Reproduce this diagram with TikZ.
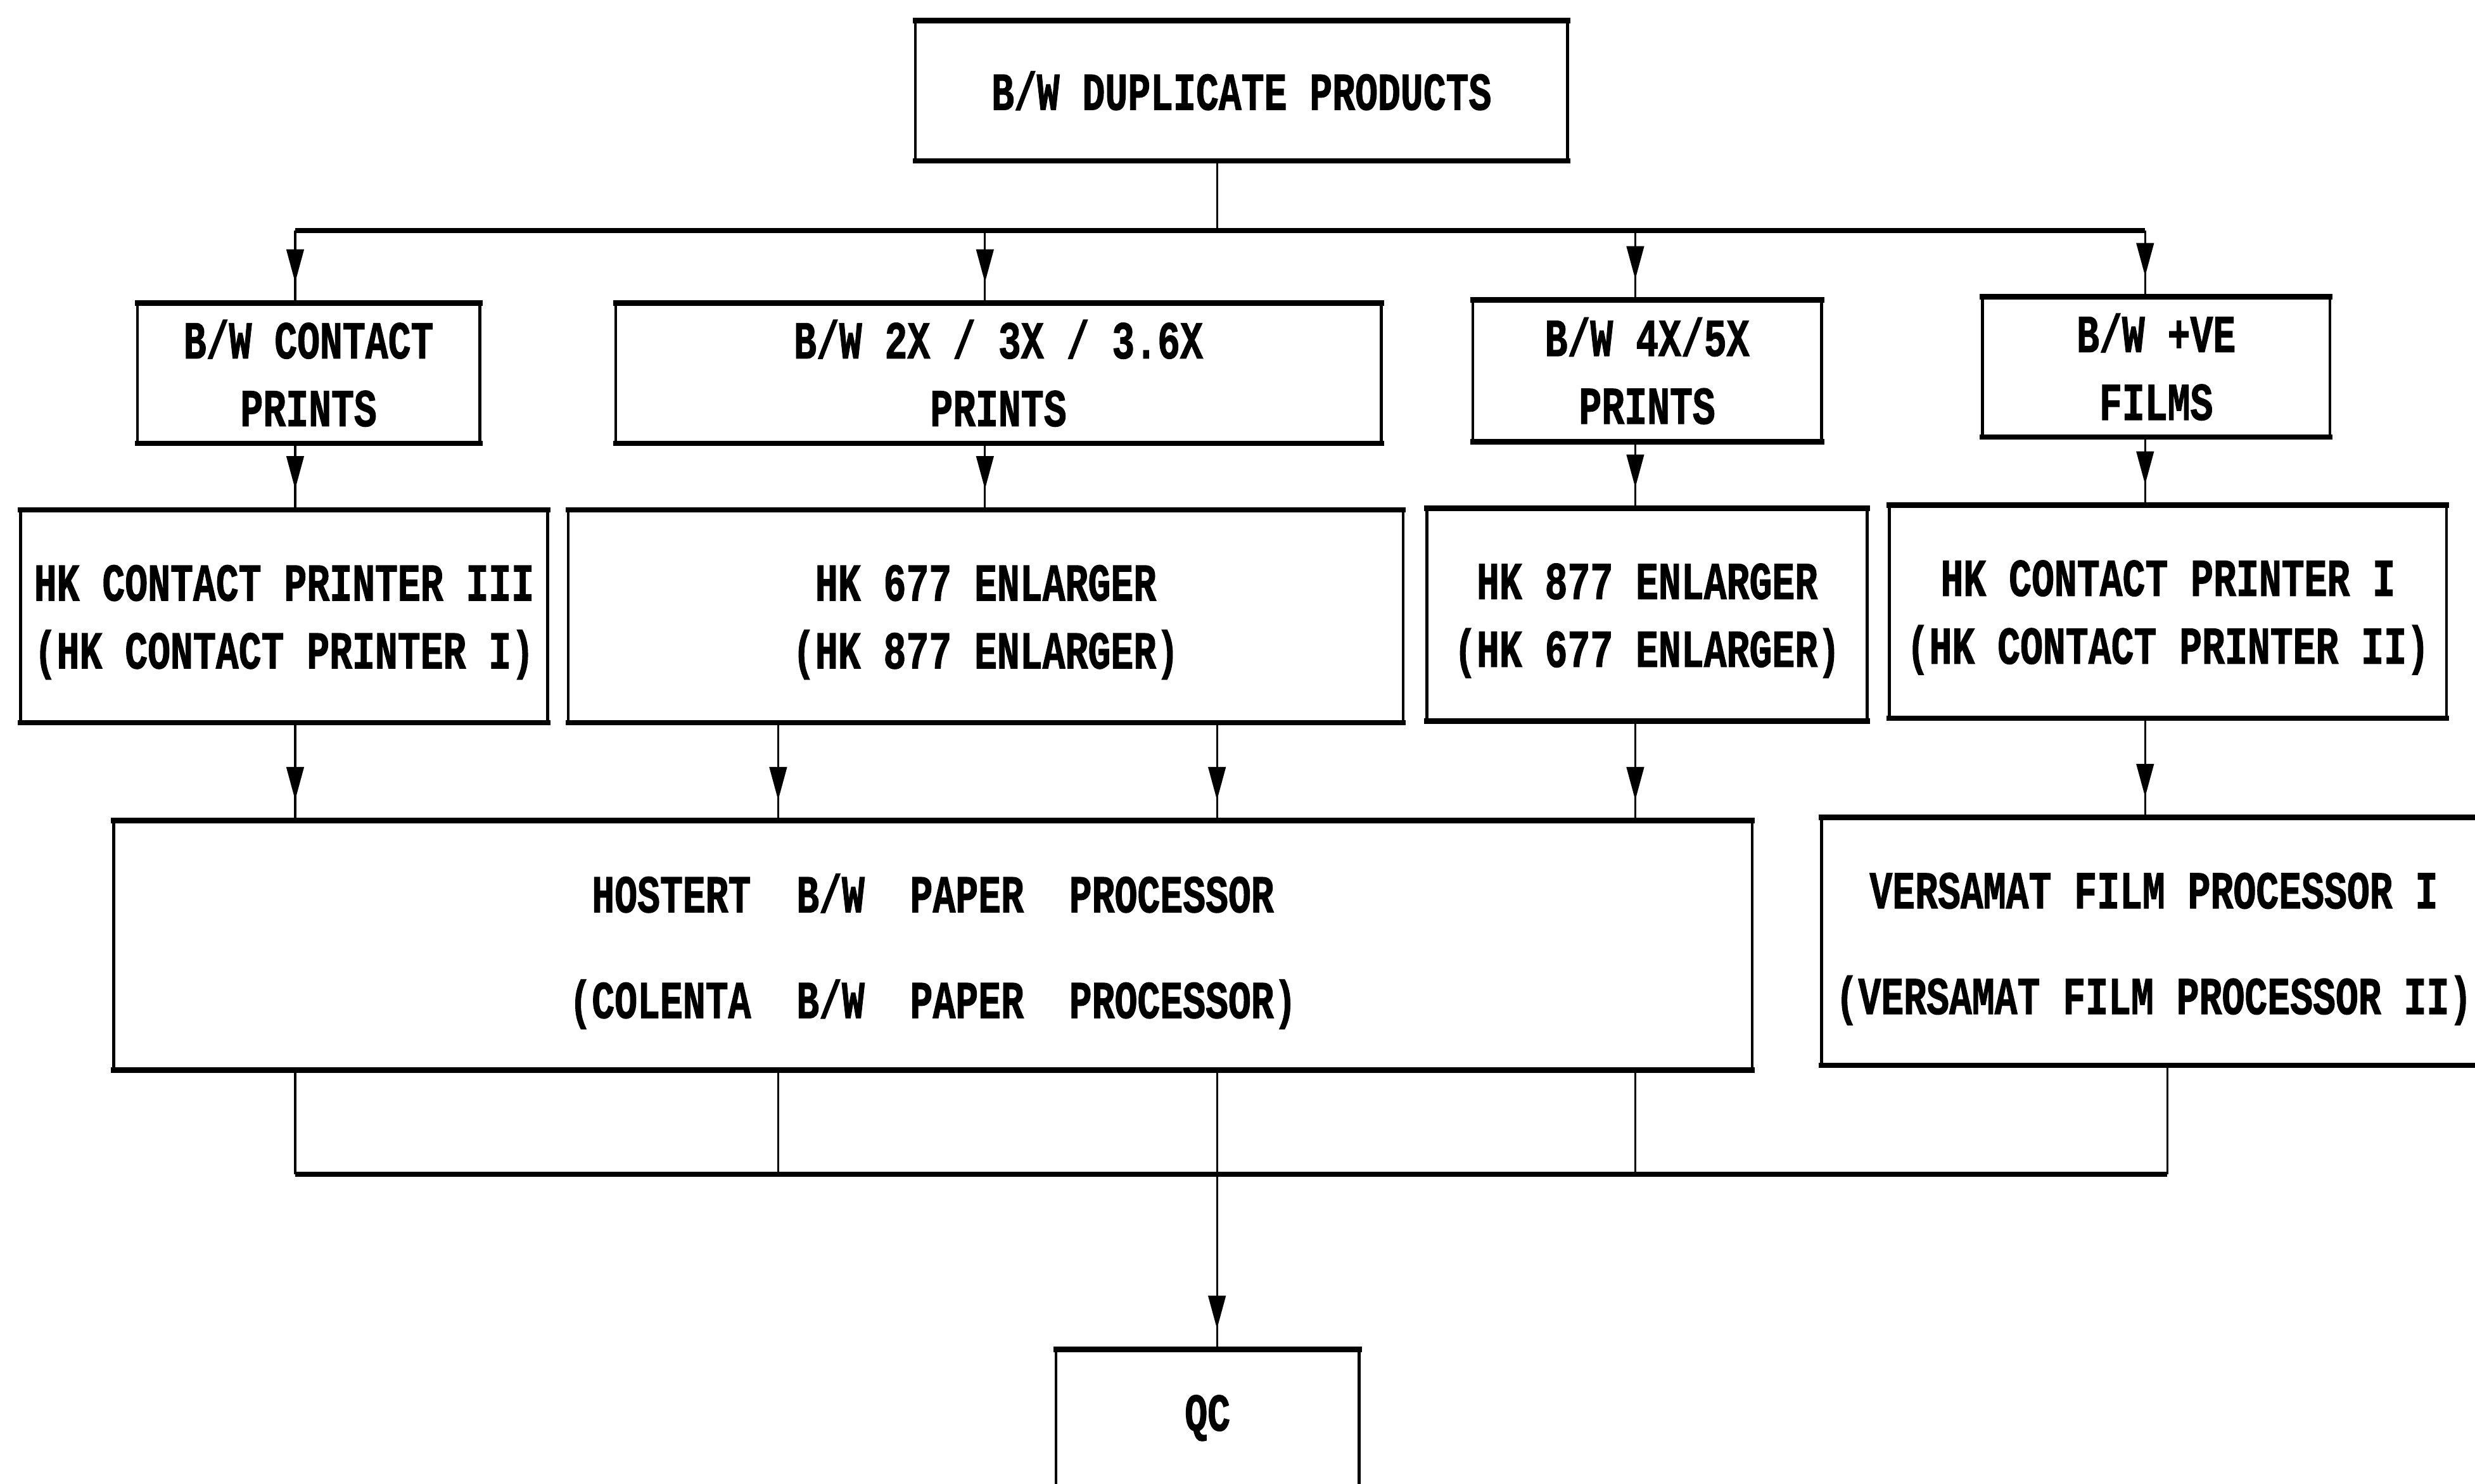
\documentclass[tikz,border=0pt]{standalone}
\usepackage{graphicx}
\usepackage{fontspec}
\setmonofont{Liberation Mono}[BoldFeatures={FakeBold=1.6}]
\usetikzlibrary{arrows.meta,decorations.markings}
\newcommand{\sx}[1]{\scalebox{1}[1.4]{#1}}
\newcommand{\lift}[1]{\rule{0pt}{#1pt}}
\begin{document}
\begin{tikzpicture}[x=1pt,y=-1pt,
  bx/.style={inner sep=0pt, outer sep=0pt, align=center, draw=none,
    font=\ttfamily\bfseries\fontsize{24}{43}\selectfont},
  bxwide/.style={bx, font=\ttfamily\bfseries\fontsize{24}{67}\selectfont},
  hedge/.style={line width=3.4pt, line cap=rect},
  vedge/.style={line width=1.8pt},
  hline/.style={line width=3.2pt},
  vline/.style={line width=1.3pt},
  arr/.style={vline, postaction={decorate},
    decoration={markings, mark=at position -13pt with {\arrow{Triangle[length=21pt,width=11pt]}}}}
]
\useasboundingbox[fill=white] (0,0) rectangle (1568,940);

% boxes
\node[bx, minimum width=413pt, minimum height=89pt] (top) at (786.5,57.5) {\sx{B/W DUPLICATE PRODUCTS}};
\node[bx, minimum width=217pt, minimum height=89pt] (B1) at (195.5,236.5) {\sx{B/W CONTACT}\\\sx{PRINTS}};
\node[bx, minimum width=485pt, minimum height=89pt] (B2) at (632.5,236.5) {\sx{B/W 2X / 3X / 3.6X}\\\sx{PRINTS}};
\node[bx, minimum width=221pt, minimum height=90pt] (B3) at (1043.5,235) {\sx{B/W 4X/5X}\\\sx{PRINTS}};
\node[bx, minimum width=220pt, minimum height=89pt] (B4) at (1366,232.5) {\sx{B/W +VE}\\\sx{FILMS}};
\node[bx, minimum width=334pt, minimum height=135pt] (C1) at (180,390.5) {\lift{30}\sx{HK CONTACT PRINTER III}\\\sx{(HK CONTACT PRINTER I)}};
\node[bx, minimum width=529pt, minimum height=135pt] (C2) at (624.5,390.5) {\lift{30}\sx{HK 677 ENLARGER}\\\sx{(HK 877 ENLARGER)}};
\node[bx, minimum width=279pt, minimum height=135pt] (C3) at (1043.5,389.5) {\lift{30}\sx{HK 877 ENLARGER}\\\sx{(HK 677 ENLARGER)}};
\node[bx, minimum width=353pt, minimum height=135pt] (C4) at (1373.5,387.5) {\lift{30}\sx{HK CONTACT PRINTER I}\\\sx{(HK CONTACT PRINTER II)}};
\node[bxwide, minimum width=1038pt, minimum height=158pt] (D1) at (591,599) {\lift{32}\sx{HOSTERT\ \ B/W\ \ PAPER\ \ PROCESSOR}\\\sx{(COLENTA\ \ B/W\ \ PAPER\ \ PROCESSOR)}};
\node[bxwide, minimum width=421pt, minimum height=157pt] (D2) at (1364.5,596.5) {\lift{32}\sx{VERSAMAT FILM PROCESSOR I}\\\sx{(VERSAMAT FILM PROCESSOR II)}};
\node[bx, minimum width=192pt, minimum height=87pt] (QC) at (765,898.5) {\sx{QC}};

\foreach \n in {top,B1,B2,B3,B4,C1,C2,C3,C4,D1,D2,QC}{
  \draw[vedge] (\n.north west) -- (\n.south west);
  \draw[vedge] (\n.north east) -- (\n.south east);
  \draw[hedge] (\n.north west) -- (\n.north east);
  \draw[hedge] (\n.south west) -- (\n.south east);
}

% top bus
\coordinate (a1) at (187,146);
\coordinate (a2) at (624,146);
\coordinate (bj) at (771,146);
\coordinate (a3) at (1036,146);
\coordinate (a4) at (1359,146);
\draw[vline] (top.south -| bj) -- (bj);
\draw[hline] (a1) -- (a4);
\draw[arr] (a1) -- (B1.north -| a1);
\draw[arr] (a2) -- (B2.north -| a2);
\draw[arr] (a3) -- (B3.north -| a3);
\draw[arr] (a4) -- (B4.north -| a4);

% row 1 -> row 2
\draw[arr] (B1.south -| a1) -- (C1.north -| a1);
\draw[arr] (B2.south -| a2) -- (C2.north -| a2);
\draw[arr] (B3.south -| a3) -- (C3.north -| a3);
\draw[arr] (B4.south -| a4) -- (C4.north -| a4);

% bottom bus
\coordinate (q1) at (187,744);
\coordinate (q2) at (493,744);
\coordinate (q3) at (771,744);
\coordinate (q4) at (1036,744);
\coordinate (q5) at (1373,744);

% row 2 -> row 3
\draw[arr] (C1.south -| q1) -- (D1.north -| q1);
\draw[arr] (C2.south -| q2) -- (D1.north -| q2);
\draw[arr] (C2.south -| q3) -- (D1.north -| q3);
\draw[arr] (C3.south -| q4) -- (D1.north -| q4);
\draw[arr] (C4.south -| a4) -- (D2.north -| a4);

% row 3 -> bus -> QC
\draw[vline] (D1.south -| q1) -- (q1);
\draw[vline] (D1.south -| q2) -- (q2);
\draw[vline] (D1.south -| q3) -- (q3);
\draw[vline] (D1.south -| q4) -- (q4);
\draw[vline] (D2.south -| q5) -- (q5);
\draw[hline] (q1) -- (q5);
\draw[arr] (q3) -- (QC.north -| q3);
\end{tikzpicture}
\end{document}
